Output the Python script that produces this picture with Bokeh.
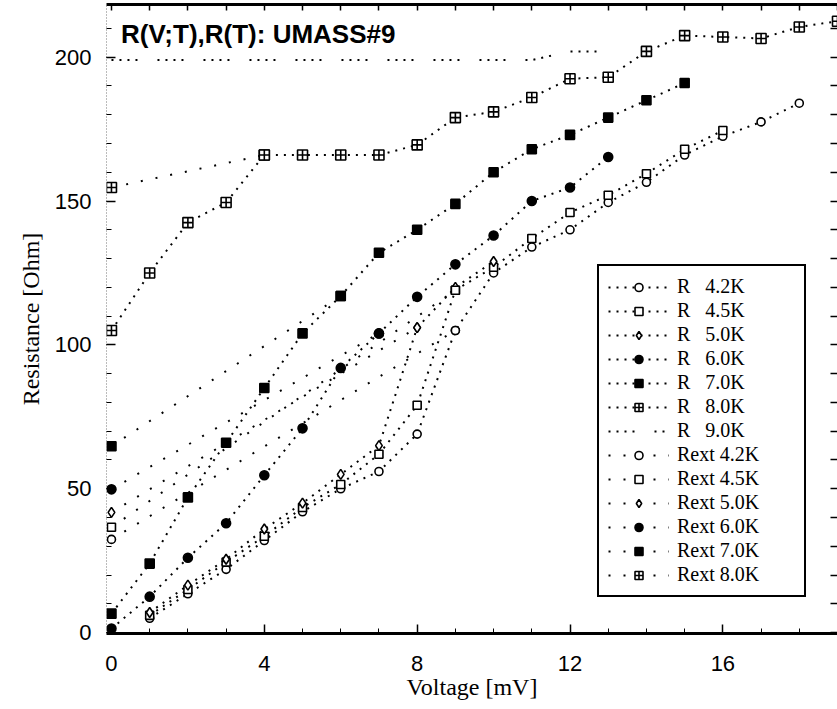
from bokeh.plotting import figure
from bokeh.models import LinearAxis, FixedTicker, Legend, LegendItem, Label, Range1d
from bokeh.embed import file_html
from bokeh.resources import INLINE

# ---- data ----
v_r42 = [1, 2, 3, 4, 5, 6, 7, 8, 9, 10, 11, 12, 13, 14, 15, 16, 17, 18]
r_42 = [5, 13.5, 22, 32, 42, 50, 56, 69, 105, 125, 134, 140, 149.5, 156.5, 166, 172.5, 177.5, 184]

v_r45 = [1, 2, 3, 4, 5, 6, 7, 8, 9, 10, 11, 12, 13, 14, 15, 16]
r_45 = [6, 15, 24.5, 33.5, 43.5, 51.5, 62, 79, 119, 127, 137, 146, 152, 159.5, 168, 174.5]

v_r50 = [1, 2, 3, 4, 5, 6, 7, 8, 9, 10]
r_50 = [7, 16.5, 25.5, 36, 45, 55, 65, 106, 120, 129]

v_r60 = [0, 1, 2, 3, 4, 5, 6, 7, 8, 9, 10, 11, 12, 13]
r_60 = [1.4, 12.5, 26, 38, 54.7, 71, 92, 104, 116.7, 128, 138, 150, 154.7, 165.3]

v_r70 = [0, 1, 2, 3, 4, 5, 6, 7, 8, 9, 10, 11, 12, 13, 14, 15]
r_70 = [6.6, 24, 47, 66, 85, 104, 117, 132, 140, 149, 160, 168, 173, 179, 185, 191]

v_r80 = [0, 1, 2, 3, 4, 5, 6, 7, 8, 9, 10, 11, 12, 13, 14, 15, 16, 17, 18, 19]
r_80 = [105, 125, 142.5, 149.5, 166, 166, 166, 166, 169.5, 179, 181, 186, 192.5, 193, 202, 207.5, 207, 206.5, 210.5, 212.5]

v_r90 = [0, 1, 2, 3, 4, 5, 6, 7, 8, 9, 10, 11, 12, 13]
r_90 = [199, 199, 199, 199, 199, 199, 199, 199, 199, 199, 199, 199, 202, 202]

v_x42 = [0, 9]
x_42 = [32.4, 105]
v_x45 = [0, 9]
x_45 = [36.6, 119]
v_x50 = [0, 8]
x_50 = [41.8, 106]
v_x60 = [0, 7]
x_60 = [49.8, 104]
v_x70 = [0, 6]
x_70 = [64.8, 117]
v_x80 = [0, 4]
x_80 = [154.7, 166]

x_major = [0, 4, 8, 12, 16]
y_major = [0, 50, 100, 150, 200]
x_minor = list(range(0, 20))
y_minor = list(range(0, 220, 10))

# ---- figure ----
p = figure(width=837, height=709, output_backend="svg", toolbar_location=None,
           x_range=Range1d(-0.13, 19.0), y_range=Range1d(-0.3, 218.3),
           min_border_left=106, min_border_right=0, min_border_top=4,
           min_border_bottom=76)
p.outline_line_color = None
p.xgrid.visible = False
p.ygrid.visible = False
p.background_fill_color = "white"


def style_axis(ax, ticker):
    ax.ticker = ticker
    ax.major_tick_in = 9
    ax.major_tick_out = 0
    ax.minor_tick_in = 5
    ax.minor_tick_out = 0
    ax.major_tick_line_color = "black"
    ax.minor_tick_line_color = "black"
    ax.major_tick_line_width = 1.5
    ax.minor_tick_line_width = 1
    ax.major_label_text_font = "Liberation Sans"
    ax.major_label_text_font_size = "22px"
    ax.major_label_text_color = "black"
    ax.axis_label_text_font = "Liberation Serif"
    ax.axis_label_text_font_size = "24px"
    ax.axis_label_text_font_style = "normal"
    ax.axis_label_text_color = "black"


style_axis(p.xaxis[0], FixedTicker(ticks=x_major, minor_ticks=x_minor))
style_axis(p.yaxis[0], FixedTicker(ticks=y_major, minor_ticks=y_minor))
p.xaxis.axis_label = "Voltage [mV]"
p.yaxis.axis_label = "Resistance [Ohm]"
p.xaxis.axis_line_width = 3
p.xaxis.major_label_standoff = 22
p.xaxis.axis_label_standoff = 0
p.yaxis.axis_line_width = 1
p.yaxis.axis_line_color = "#777777"
p.yaxis.axis_line_dash = "1 2"
p.yaxis.major_label_standoff = 15
p.yaxis.axis_label_standoff = 8


def mirror_axis(ticker, tick_len, line_w):
    ax = LinearAxis(ticker=ticker)
    ax.major_tick_in = 0
    ax.major_tick_out = 0
    ax.minor_tick_in = tick_len
    ax.minor_tick_out = 0
    ax.minor_tick_line_color = "black"
    ax.minor_tick_line_width = 1.5
    ax.axis_line_width = line_w
    ax.major_label_standoff = 0
    ax.axis_label_standoff = 0
    return ax


# mirror axes: tick marks only, no labels
p.add_layout(mirror_axis(FixedTicker(ticks=[], minor_ticks=x_minor), 6, 3), "above")
p.add_layout(mirror_axis(FixedTicker(ticks=[], minor_ticks=y_minor), 7, 1), "right")

R_DASH = "2 6"
X_DASH = "2 13"

series = [
    ("R\u00a0\u00a0\u00a04.2K", v_r42, r_42, "circle", 8, "white", R_DASH),
    ("R\u00a0\u00a0\u00a04.5K", v_r45, r_45, "square", 8, "white", R_DASH),
    ("R\u00a0\u00a0\u00a05.0K", v_r50, r_50, "diamond", 10, "white", R_DASH),
    ("R\u00a0\u00a0\u00a06.0K", v_r60, r_60, "circle", 9, "black", R_DASH),
    ("R\u00a0\u00a0\u00a07.0K", v_r70, r_70, "square", 9, "black", R_DASH),
    ("R\u00a0\u00a0\u00a08.0K", v_r80, r_80, "square_cross", 10, "white", R_DASH),
    ("R\u00a0\u00a0\u00a09.0K", v_r90, r_90, None, 0, None, "2 6 2 6 2 6 2 20"),
    ("Rext 4.2K", v_x42, x_42, "circle", 8, "white", X_DASH),
    ("Rext 4.5K", v_x45, x_45, "square", 8, "white", X_DASH),
    ("Rext 5.0K", v_x50, x_50, "diamond", 10, "white", X_DASH),
    ("Rext 6.0K", v_x60, x_60, "circle", 9, "black", X_DASH),
    ("Rext 7.0K", v_x70, x_70, "square", 9, "black", X_DASH),
    ("Rext 8.0K", v_x80, x_80, "square_cross", 10, "white", X_DASH),
]

items = []
for label, xs, ys, marker, size, fill, dash in series:
    rends = []
    ln = p.line(xs, ys, line_color="black", line_width=2, line_dash=dash)
    rends.append(ln)
    if marker is not None:
        sc = p.scatter(xs, ys, marker=marker, size=size, line_color="black",
                       line_width=1.6, fill_color=fill)
        rends.append(sc)
    items.append(LegendItem(label=label, renderers=rends))

legend = Legend(items=items, location=(491, 36))
legend.border_line_color = "black"
legend.border_line_alpha = 1
legend.border_line_width = 2.5
legend.background_fill_color = "white"
legend.background_fill_alpha = 1
legend.label_text_font = "Liberation Serif"
legend.label_text_font_size = "20px"
legend.label_text_color = "black"
legend.glyph_width = 61
legend.glyph_height = 20
legend.label_height = 20
legend.label_width = 118
legend.spacing = 1
legend.padding = 9
legend.label_standoff = 8
legend.margin = 0
p.add_layout(legend)

title = Label(x=0.25, y=208, text="R(V;T),R(T): UMASS#9", text_font="Liberation Sans",
              text_font_style="bold", text_font_size="26px", text_baseline="middle",
              text_color="black")
p.add_layout(title)

open("out.html", "w").write(file_html(p, INLINE))
